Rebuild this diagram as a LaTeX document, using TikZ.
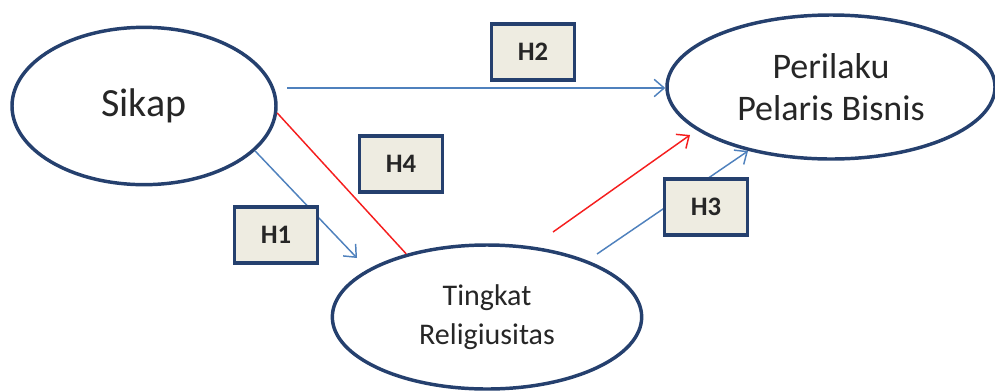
\documentclass[tikz,border=0pt]{standalone}
\usepackage{fontspec}
\setmainfont{Carlito}
\usetikzlibrary{shapes.geometric,arrows.meta}

\definecolor{ovalblue}{RGB}{37,64,110}
\definecolor{linkblue}{RGB}{79,129,189}
\definecolor{linkred}{RGB}{245,30,30}
\definecolor{boxfill}{RGB}{238,236,225}
\definecolor{txtgray}{RGB}{38,38,38}

\tikzset{every picture/.style={line width=0.75pt},
	varoval/.style={ellipse, draw=ovalblue, line width=2.6pt, text=txtgray, align=center, inner sep=0pt},
	hypbox/.style={rectangle, draw=ovalblue, fill=boxfill, line width=2.3pt, minimum width=62pt, minimum height=42pt, text=txtgray, font=\fontsize{20}{24}\selectfont\bfseries},
	bluelink/.style={draw=linkblue, line width=1.1pt},
	redlink/.style={draw=linkred, line width=1.1pt},
	barb/.style={-{Straight Barb[length=7.5pt,width=13pt]}}
}

\begin{document}
\begin{tikzpicture}[x=0.75pt,y=0.75pt,yscale=-1,xscale=1]
		\path[use as bounding box] (0,0) rectangle (995,390);
		
		%Shape: Ellipse [variables]
		\node[varoval, minimum width=198pt, minimum height=118pt, font=\fontsize{30}{36}\selectfont] (sikap) at (144,106) {Sikap};
		\node[varoval, minimum width=246pt, minimum height=108pt, font=\fontsize{27}{32}\selectfont] (perilaku) at (831,87) {Perilaku\\Pelaris Bisnis};
		\node[varoval, minimum width=232pt, minimum height=108pt, font=\fontsize{22.5}{29}\selectfont] (tingkat) at (487,317) {Tingkat\\Religiusitas};
		
		%free ends of the links
		\coordinate (h1head) at (357,258);
		\coordinate (h2tail) at (287,88);
		\coordinate (redtail) at (553,232);
		\coordinate (redhead) at (690,135);
		\coordinate (h3tail) at (597,254);
		\coordinate (h3head) at (748,151);
		
		%Links
		\draw[bluelink, barb] (sikap.-22) -- (h1head);
		\draw[bluelink, barb] (h2tail) -- (h2tail -| perilaku.west);
		\draw[redlink] (sikap.-3) -- (tingkat.142);
		\draw[redlink, barb] (redtail) -- (redhead);
		\draw[bluelink, barb] (h3tail) -- (h3head);
		
		%Shape: Rectangle [hypotheses]
		\node[hypbox] (h1) at (276,235) {H1};
		\node[hypbox] (h2) at (533,52) {H2};
		\node[hypbox] (h3) at (706,207) {H3};
		\node[hypbox] (h4) at (401,164) {H4};
		
\end{tikzpicture}
\end{document}
